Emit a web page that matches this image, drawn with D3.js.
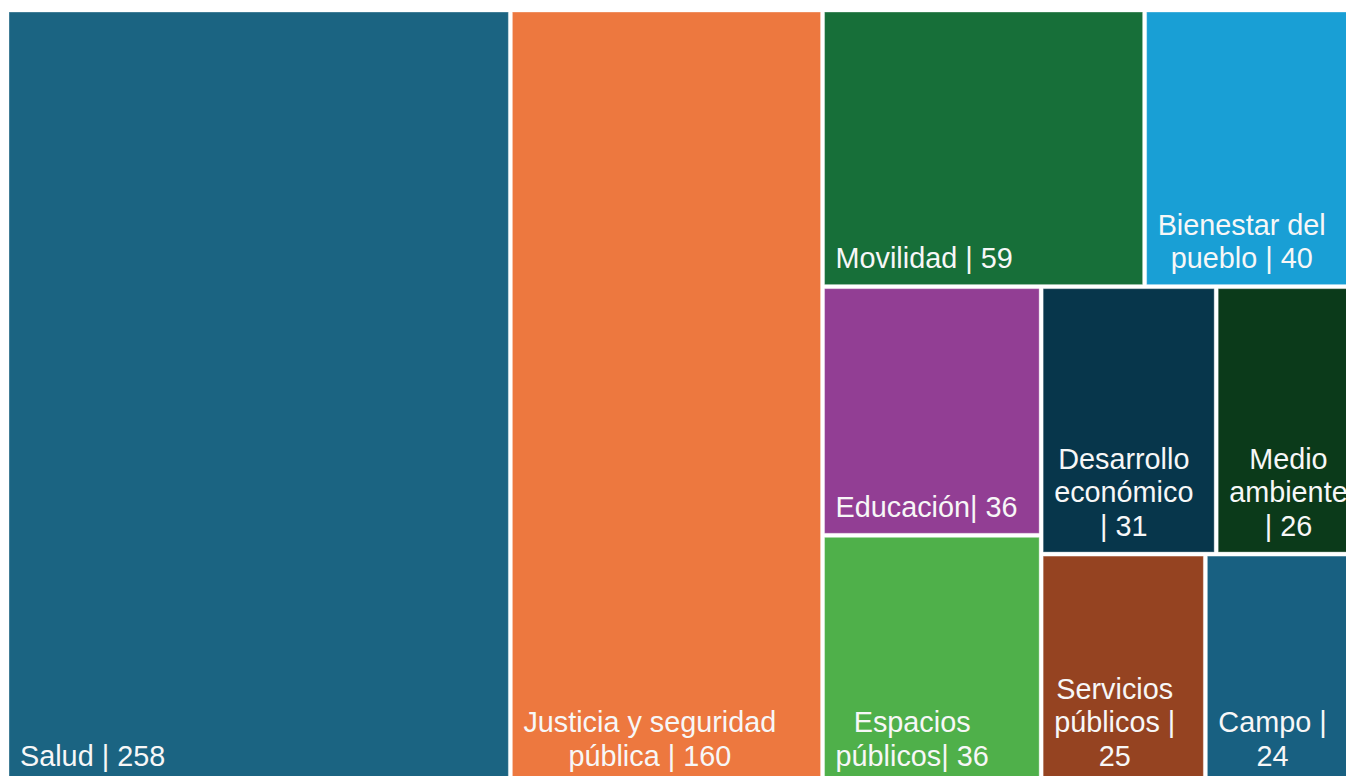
<!DOCTYPE html>
<html lang="es">
<head>
<meta charset="utf-8">
<script src="https://cdn.jsdelivr.net/npm/d3@7"></script>
<style>
  html, body { margin: 0; padding: 0; background: #ffffff; overflow: hidden; }
  svg { display: block; font-family: "Liberation Sans", Arial, sans-serif; }
</style>
</head>
<body>
<svg id="chart" width="1346" height="776"></svg>
<script>
// Proyectos por eje temático
const categories = [
  "Salud", "Justicia y seguridad pública", "Movilidad", "Bienestar del pueblo",
  "Educación", "Espacios públicos", "Desarrollo económico", "Medio ambiente",
  "Servicios públicos", "Campo"
];
const values = [258, 160, 59, 40, 36, 36, 31, 26, 25, 24];
const separators = [" | ", " | ", " | ", " | ", "| ", "| ", " | ", " | ", " | ", " | "];
const colors = [
  "#1b6482", "#ed783f", "#176f39", "#199fd5", "#923e94",
  "#4fb04a", "#07364b", "#0b3a1a", "#954321", "#186081"
];

const width = 1346, height = 776;
const layout = { left: 7, top: 10, w: 1356, h: 774 };
const gap = 2;            // half of the white gutter between tiles
const labelPad = 11;      // label inset from the tile's left edge
const labelBottom = 16.5; // last baseline above the tile's bottom edge
const lineHeight = 33.5;
const fontSize = 28.8;

// Squarified tiling with an unclamped aspect-ratio target.
function squarifyTile(ratio) {
  return function (parent, x0, y0, x1, y1) {
    const nodes = parent.children, n = nodes.length;
    let value = parent.value, i0 = 0, i1 = 0;
    while (i0 < n) {
      const dx = x1 - x0, dy = y1 - y0;
      let sumValue;
      do sumValue = nodes[i1++].value; while (!sumValue && i1 < n);
      let minValue = sumValue, maxValue = sumValue;
      const alpha = Math.max(dy / dx, dx / dy) / (value * ratio);
      let beta = sumValue * sumValue * alpha;
      let minRatio = Math.max(maxValue / beta, beta / minValue);
      for (; i1 < n; ++i1) {
        const nodeValue = nodes[i1].value;
        sumValue += nodeValue;
        if (nodeValue < minValue) minValue = nodeValue;
        if (nodeValue > maxValue) maxValue = nodeValue;
        beta = sumValue * sumValue * alpha;
        const newRatio = Math.max(maxValue / beta, beta / minValue);
        if (newRatio > minRatio) { sumValue -= nodeValue; break; }
        minRatio = newRatio;
      }
      const row = { value: sumValue, children: nodes.slice(i0, i1) };
      if (dx < dy) d3.treemapDice(row, x0, y0, x1, dy ? (y0 += dy * sumValue / value) : y1);
      else d3.treemapSlice(row, x0, y0, dx ? (x0 += dx * sumValue / value) : x1, y1);
      value -= sumValue;
      i0 = i1;
    }
  };
}

const data = {
  children: categories.map((name, i) => ({
    name, value: values[i], sep: separators[i], color: colors[i]
  }))
};

const root = d3.hierarchy(data)
  .sum(d => d.value)
  .sort((a, b) => b.value - a.value);

d3.treemap()
  .tile(squarifyTile(0.908))
  .size([layout.w, layout.h])(root);

const svg = d3.select("#chart").attr("viewBox", `0 0 ${width} ${height}`);
const g = svg.append("g").attr("transform", `translate(${layout.left},${layout.top})`);

const leaves = root.leaves();

const cell = g.selectAll("g.cell")
  .data(leaves)
  .join("g")
  .attr("class", "cell");

cell.append("rect")
  .attr("x", d => d.x0 + gap)
  .attr("y", d => d.y0 + gap)
  .attr("width", d => Math.max(0, d.x1 - d.x0 - 2 * gap))
  .attr("height", d => Math.max(0, d.y1 - d.y0 - 2 * gap))
  .attr("fill", d => d.data.color)
  .attr("stroke", "rgba(255,255,255,0.35)")
  .attr("stroke-width", 1);

// Measuring text for word wrapping
const probe = svg.append("text")
  .attr("font-size", fontSize)
  .attr("visibility", "hidden");
function textWidth(s) {
  probe.text(s);
  return probe.node().getComputedTextLength();
}

function wrap(label, maxWidth) {
  const words = label.split(" ");
  const lines = [];
  let line = words[0];
  for (let i = 1; i < words.length; i++) {
    const candidate = line + " " + words[i];
    if (textWidth(candidate) <= maxWidth) line = candidate;
    else { lines.push(line); line = words[i]; }
  }
  lines.push(line);
  return lines;
}

cell.each(function (d) {
  const label = d.data.name + d.data.sep + d.data.value;
  const tileW = d.x1 - d.x0 - 2 * gap;
  const lines = wrap(label, tileW - 2 * labelPad - 2);
  const widths = lines.map(textWidth);
  const blockW = d3.max(widths);
  const cx = d.x0 + gap + labelPad + blockW / 2;
  const lastBaseline = d.y1 - gap - labelBottom;
  const t = d3.select(this).append("text")
    .attr("font-size", fontSize)
    .attr("fill", "#f7f7f7")
    .attr("text-anchor", "middle");
  lines.forEach((ln, i) => {
    t.append("tspan")
      .attr("x", cx)
      .attr("y", lastBaseline - (lines.length - 1 - i) * lineHeight)
      .text(ln);
  });
});

probe.remove();
</script>
</body>
</html>
